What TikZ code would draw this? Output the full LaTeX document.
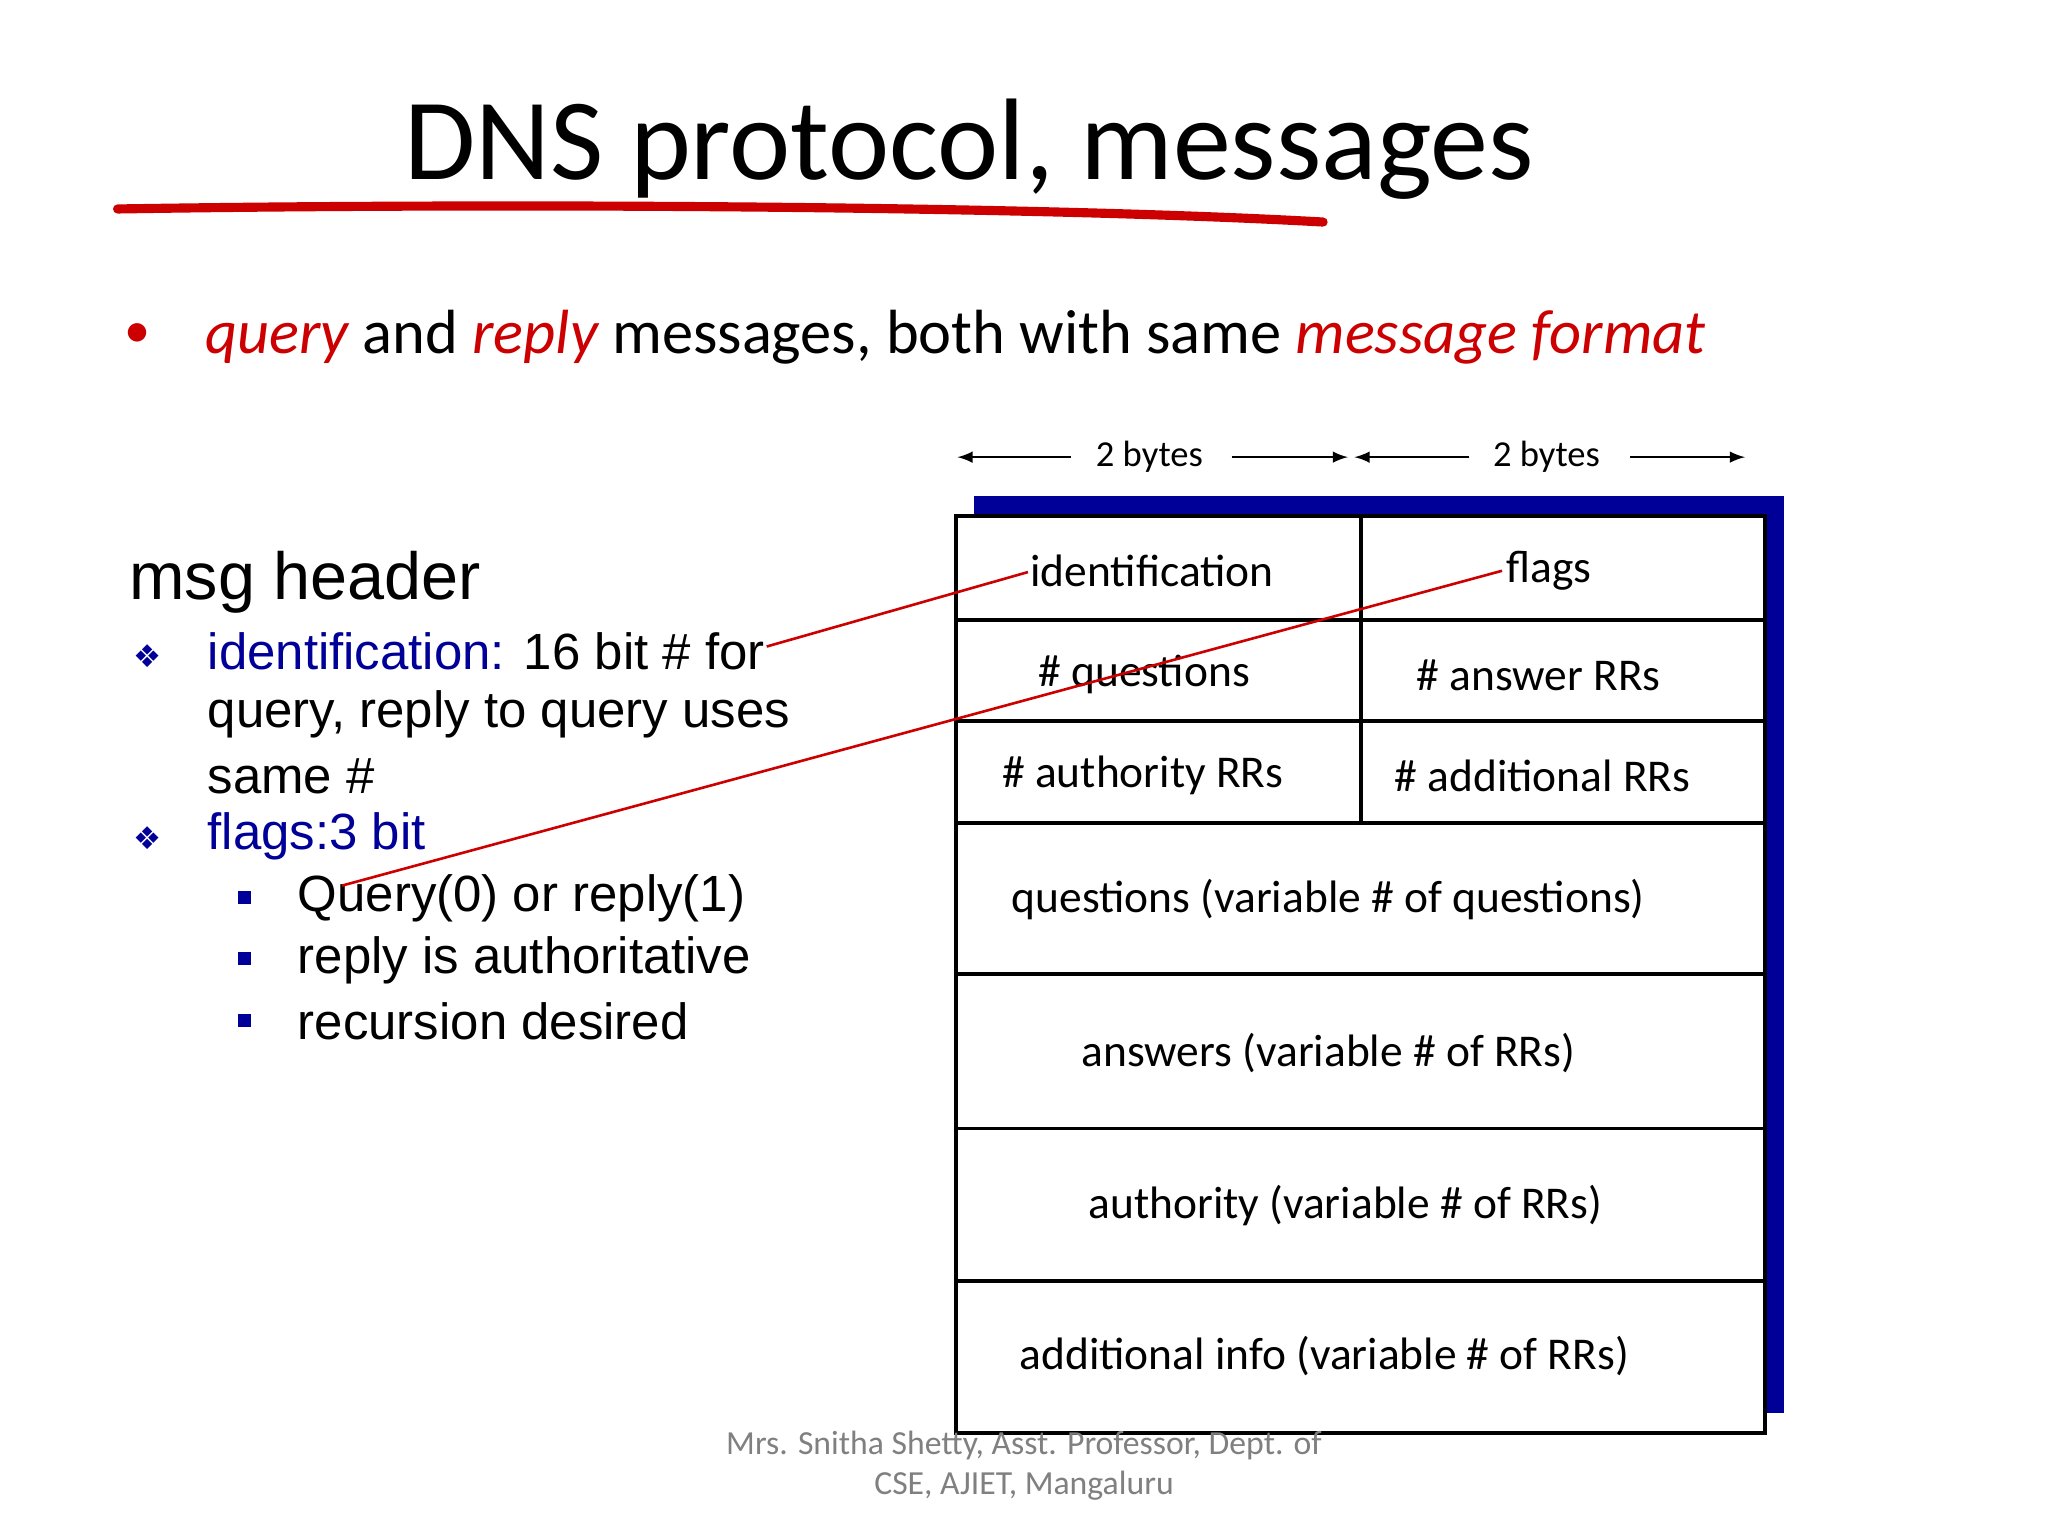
\documentclass[tikz,border=0pt]{standalone}
\usepackage{fontspec}
\setmainfont{Carlito}
\newfontfamily\arial{Liberation Sans}
\newfontfamily\dju{DejaVu Sans}
\definecolor{navy}{RGB}{0,0,153}
\definecolor{dred}{RGB}{204,0,0}
\begin{document}
\begin{tikzpicture}[x=0.5pt,y=-0.5pt,
  boxtxt/.style={font=\fontsize{17.4}{21}\selectfont},
  lt/.style={anchor=west,font=\arial\fontsize{19.5}{23}\selectfont},
  rline/.style={draw=dred,line width=1pt}]
\useasboundingbox (0,0) rectangle (1568,1176);
\fill[white] (0,0) rectangle (1568,1176);
% title
\node[font=\fontsize{44.4}{52}\selectfont] (title) at (742,114) {DNS protocol, messages};
\draw[dred,line width=3.5pt,line cap=round] (90,160) .. controls (400,155) and (800,158) .. (1013,170);
% bullet
\node[dred,font=\fontsize{20}{24}\selectfont] (dot) at (105,257) {•};
\node[anchor=west,font=\fontsize{23.9}{28}\selectfont] (bl) at (150,258) {\textcolor{dred}{\itshape query} and \textcolor{dred}{\itshape reply} messages, both with same \textcolor{dred}{\itshape message format}};
% byte arrows
\node[font=\fontsize{14}{17}\selectfont] (b1) at (880,350) {2 bytes};
\node[font=\fontsize{14}{17}\selectfont] (b2) at (1184,350) {2 bytes};
\coordinate (a1) at (733,350); \coordinate (a2) at (1032,350);
\coordinate (a3) at (1037,350); \coordinate (a4) at (1336,350);
\draw[-latex,line width=1pt] (820,350) -- (a1);
\draw[-latex,line width=1pt] (943,350) -- (a2);
\draw[-latex,line width=1pt] (1125,350) -- (a3);
\draw[-latex,line width=1pt] (1248,350) -- (a4);
% box
\fill[navy] (746,380) rectangle (1366,1082);
\fill[white] (732,395) rectangle (1351,1097);
\draw[line width=1.5pt] (732,395) rectangle (1351,1097);
\foreach \y in {475,552,630,746,864,981} \draw[line width=1.5pt] (732,\y) -- (1351,\y);
\draw[line width=1.5pt] (1042,395) -- (1042,630);
\node[boxtxt] (id) at (882,437) {identification};
\node[boxtxt] (fl) at (1186,437) {flags};
\node[boxtxt] (q) at (876,516) {\# questions};
\node[boxtxt] (an) at (1178,517) {\# answer RRs};
\node[boxtxt] (au) at (875,594) {\# authority RRs};
\node[boxtxt] (ad) at (1181,594) {\# additional RRs};
\node[boxtxt] (qs) at (1017,689) {questions (variable \# of questions)};
\node[boxtxt] (as) at (1017,806) {answers (variable \# of RRs)};
\node[boxtxt] (aus) at (1030,923) {authority (variable \# of RRs)};
\node[boxtxt] (ads) at (1014,1038) {additional info (variable \# of RRs)};
% left text
\node[anchor=west,font=\arial\fontsize{25.5}{30}\selectfont] (mh) at (92,446) {msg header};
\node[navy,font=\dju\fontsize{12}{14}\selectfont] (d1) at (113,502) {❖};
\node[lt] (l1) at (152,499) {\textcolor{navy}{identification:} 16 bit \# for};
\node[lt] (l2) at (152,547) {query, reply to query uses};
\node[lt] (l3) at (152,594) {same \#};
\node[navy,font=\dju\fontsize{12}{14}\selectfont] (d2) at (113,642) {❖};
\node[lt,navy] (l4) at (152,640) {flags:3 bit};
\foreach \y/\t [count=\i] in {688/Query(0) or reply(1),735/reply is authoritative,782/recursion desired}{
  \fill[navy] (182,\y-6) rectangle (192,\y+4);
  \node[lt] (s\i) at (221,\y) {\t};
}
% red connectors
\coordinate (r1) at (587,495); \coordinate (r2) at (787,438);
\coordinate (r3) at (262,678); \coordinate (r4) at (1150,437);
\draw[rline] (r1) -- (r2);
\draw[rline] (r3) -- (r4);
% footer
\node[gray,align=center,font=\fontsize{12.9}{15.5}\selectfont] (ft) at (784,1122) {Mrs. Snitha Shetty, Asst. Professor, Dept. of\\CSE, AJIET, Mangaluru};
\end{tikzpicture}
\end{document}
